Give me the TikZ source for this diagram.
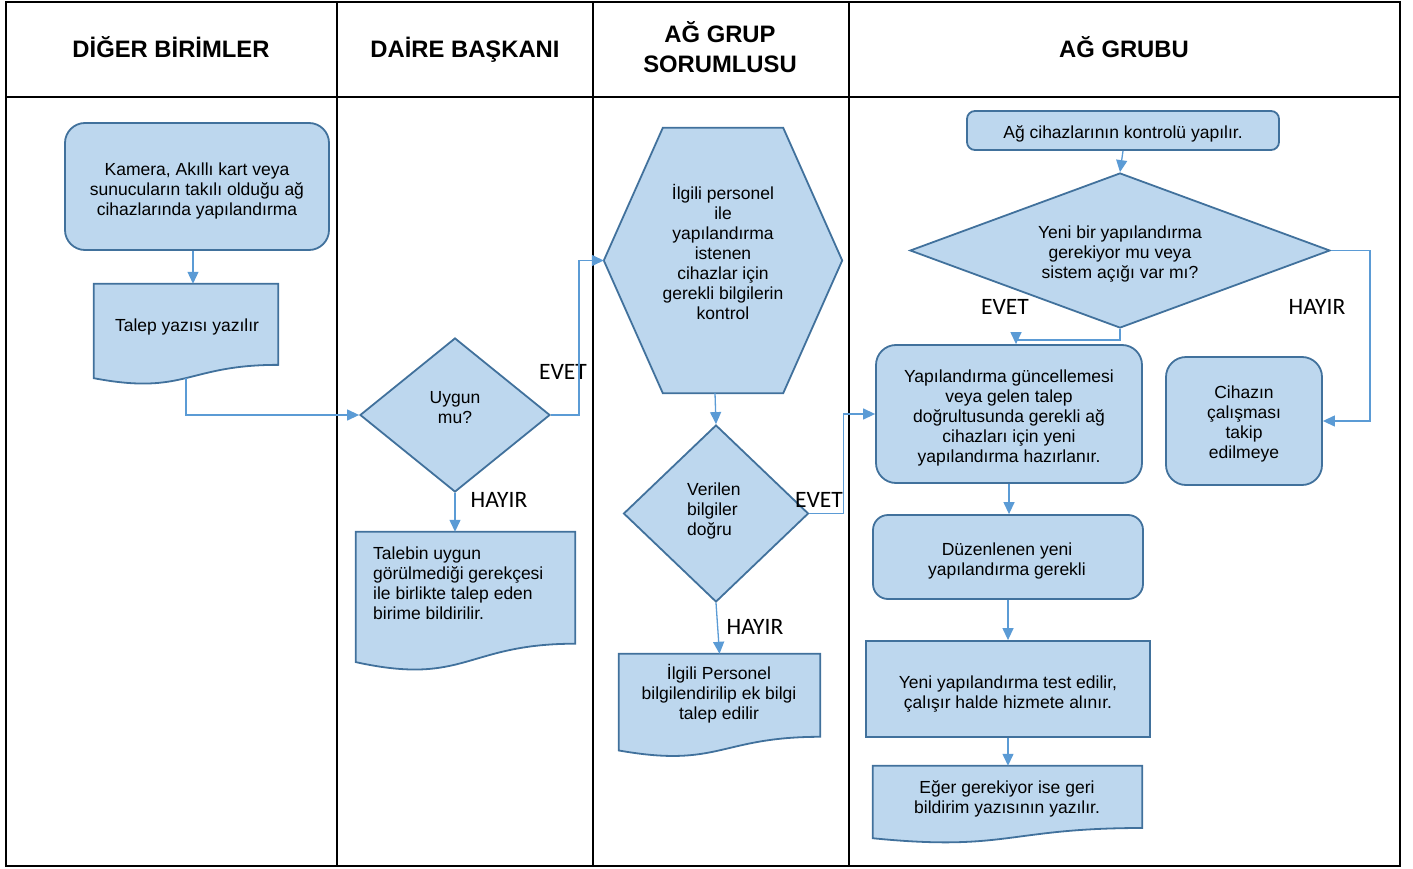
\documentclass[tikz,border=0pt]{standalone}
\usepackage{fontspec}
\setmainfont{Liberation Sans}
\newfontfamily\calib{Carlito}
\usetikzlibrary{shapes.geometric,arrows.meta,calc,backgrounds}
\definecolor{boxfill}{HTML}{BDD7EE}
\definecolor{boxline}{HTML}{41719C}
\definecolor{arrowc}{HTML}{5B9BD5}
\tikzset{
  body/.style={font=\fontsize{17.5}{20}\selectfont, align=center, text=black, inner sep=0pt},
  shapeline/.style={draw=boxline, fill=boxfill, line width=1.8pt},
  rbox/.style={shapeline, rectangle, rounded corners=#1, inner sep=0pt},
  rbox/.default=20pt,
  sqbox/.style={shapeline, rectangle, inner sep=0pt},
  docn/.style={rectangle, draw=none, inner sep=0pt},
  hexn/.style={rectangle, draw=none, inner sep=0pt},
  dia/.style={shapeline, diamond, inner sep=0pt},
  docsty/.style={shapeline},
  arr/.style={draw=arrowc, line width=1.3pt, -{Triangle[length=12pt,width=11pt]}},
  yn/.style={font=\calib\fontsize{23.5}{26}\selectfont, inner sep=0pt},
  head/.style={font=\bfseries\fontsize{23.8}{30}\selectfont, align=center},
  grid/.style={draw=black, line width=1.8pt}
}
\newcommand\docshape[1]{%
  \path[docsty] let \p1=(#1.north west), \p2=(#1.south east) in
   (\x1,\y1) -- (\x2,\y1) -- (\x2,\y2)
   .. controls ({(\x1+\x2)/2},\y2) and ({(\x1+\x2)/2},{\y1+1.3803*(\y2-\y1)}) ..
   (\x1,{\y1+1.1646*(\y2-\y1)}) -- cycle
   ({(\x1+\x2)/2},{\y1+1.1633*(\y2-\y1)}) coordinate (#1-b);}
\begin{document}
\begin{tikzpicture}[x=1pt,y=-1pt]
\useasboundingbox (0,0) rectangle (1413,869);
% table
\draw[grid] (6,2) rectangle (1400,866);
\draw[grid] (6,97) -- (1400,97);
\draw[grid] (337,2) -- (337,866);
\draw[grid] (593,2) -- (593,866);
\draw[grid] (849,2) -- (849,866);
% headers
\node[head] (h1) at (171,47) {DİĞER BİRİMLER};
\node[head] (h2) at (465,50) {DAİRE BAŞKANI};
\node[head] (h3) at (720,47) {AĞ GRUP\\SORUMLUSU};
\node[head] (h4) at (1124,47) {AĞ GRUBU};
% shapes
\node[rbox=20pt, minimum width=264pt, minimum height=127pt] (kamera) at (197,186.5) {};
\node[docn, minimum width=184pt, minimum height=80.7pt] (talep) at (186,324.3) {};
\node[dia, minimum width=190pt, minimum height=154pt] (uygun) at (455,415) {};
\node[docn, minimum width=219pt, minimum height=111.5pt] (talebin) at (465.5,587.75) {};
\node[hexn, minimum width=238pt, minimum height=265pt] (hex) at (723,260.5) {};
\node[dia, minimum width=185pt, minimum height=177pt] (verilen) at (716,513.5) {};
\node[docn, minimum width=201pt, minimum height=82.6pt] (ilgili) at (719.5,695.3) {};
\node[rbox=8pt, minimum width=312pt, minimum height=39pt] (kontrol) at (1123,130.5) {};
\node[dia, minimum width=420pt, minimum height=155pt] (yeni) at (1120,250.5) {};
\node[rbox=20pt, minimum width=266pt, minimum height=138pt] (yapi) at (1009,414) {};
\node[rbox=20pt, minimum width=156pt, minimum height=128pt] (cihaz) at (1244,421) {};
\node[rbox=15pt, minimum width=270pt, minimum height=84pt] (duz) at (1008,557) {};
\node[sqbox, minimum width=284pt, minimum height=96pt] (test) at (1008,689) {};
\node[docn, minimum width=269pt, minimum height=61.8pt] (eger) at (1007.5,796.9) {};
% shapes behind text
\begin{scope}[on background layer]
  \docshape{talep}
  \docshape{talebin}
  \docshape{ilgili}
  \docshape{eger}
  \path[shapeline] (hex.west) -- ($(hex.north west)+(59,0)$) -- ($(hex.north east)+(-59,0)$)
    -- (hex.east) -- ($(hex.south east)+(-59,0)$) -- ($(hex.south west)+(59,0)$) -- cycle;
\end{scope}
% texts
\node[body] (kamera-t) at (197,191) {Kamera, Akıllı kart veya\\sunucuların takılı olduğu ağ\\cihazlarında yapılandırma};
\node[body] (talep-t) at (187,327) {Talep yazısı yazılır};
\node[body] (uygun-t) at (455,408) {Uygun\\mu?};
\node[body, align=left, anchor=west] (talebin-t) at (373,583) {Talebin uygun\\görülmediği gerekçesi\\ile birlikte talep eden\\birime bildirilir.};
\node[body] (hex-t) at (723,252) {İlgili personel\\ile\\yapılandırma\\istenen\\cihazlar için\\gerekli bilgilerin\\kontrol};
\node[body, align=left, anchor=west] (verilen-t) at (687,511) {Verilen\\bilgiler\\doğru};
\node[body] (ilgili-t) at (719,694) {İlgili Personel\\bilgilendirilip ek bilgi\\talep edilir};
\node[body] (kontrol-t) at (1123,134) {Ağ cihazlarının kontrolü yapılır.};
\node[body] (yeni-t) at (1120,254) {Yeni bir yapılandırma\\gerekiyor mu veya\\sistem açığı var mı?};
\node[body] (yapi-t) at (1009,417.5) {Yapılandırma güncellemesi\\veya gelen talep\\doğrultusunda gerekli ağ\\cihazları için yeni\\yapılandırma hazırlanır.};
\node[body] (cihaz-t) at (1244,424) {Cihazın\\çalışması\\takip\\edilmeye};
\node[body] (duz-t) at (1007,561) {Düzenlenen yeni\\yapılandırma gerekli};
\node[body] (test-t) at (1008,694) {Yeni yapılandırma test edilir,\\çalışır halde hizmete alınır.};
\node[body] (eger-t) at (1007,799) {Eğer gerekiyor ise geri\\bildirim yazısının yazılır.};
% labels
\node[yn] (evet1) at (563,372) {EVET};
\node[yn] (hayir1) at (499,500) {HAYIR};
\node[yn] (evet2) at (819,500) {EVET};
\node[yn] (hayir2) at (755,627) {HAYIR};
\node[yn] (evet3) at (1005,307) {EVET};
\node[yn] (hayir3) at (1317,307) {HAYIR};
% connectors
\draw[arr] (kamera.south -| talep.north) ++(7,0) -- ($(talep.north)+(7,0)$);
\draw[arr] (talep-b) |- (uygun.west);
\draw[arr] (uygun.east) -- ++(28,0) |- (hex.west);
\draw[arr] (uygun.south) -- (uygun.south |- talebin.north);
\draw[arr] ($(hex.south)+(-8,0)$) -- (verilen.north);
\draw[arr] (verilen.east) -- ++(34,0) |- (yapi.west);
\draw[arr] (verilen.south) -- (ilgili.north);
\draw[arr] (kontrol.south) -- (yeni.north);
\draw[arr] (yeni.south) -- ++(0,11) -| ($(yapi.north)+(7,0)$);
\draw[arr] (yeni.east) -- ++(39,0) |- (cihaz.east);
\draw[arr] (yapi.south) -- (yapi.south |- duz.north);
\draw[arr] (duz.south) -- (duz.south |- test.north);
\draw[arr] (test.south) -- (test.south |- eger.north);
\end{tikzpicture}
\end{document}
